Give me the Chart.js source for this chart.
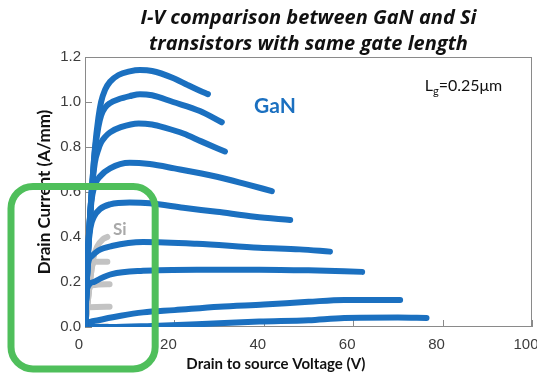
<!DOCTYPE html>
<html>
<head>
<meta charset="utf-8">
<script src="https://cdn.jsdelivr.net/npm/chart.js@4"></script>
<style>
  html, body { margin: 0; padding: 0; background: #fff; }
  #wrap { width: 537px; height: 382px; }
</style>
</head>
<body>
<div id="wrap"><canvas id="ivChart"></canvas></div>
<script>
// GaN output curves, [Vds (V), Id (A/mm)], one per gate voltage
const gan1 = [[0,0],[0.7,0.34],[1.5,0.6],[2.2,0.79],[3,0.93],[3.6,1.0],[4.5,1.055],[5.6,1.09],[7.5,1.12],[10,1.136],[12.3,1.142],[15,1.138],[19.7,1.107],[23,1.075],[25.7,1.05],[27.5,1.035]];
const gan2 = [[0,0],[0.7,0.34],[1.5,0.6],[2.2,0.78],[3,0.89],[3.6,0.94],[4.5,0.975],[5.6,0.995],[7.5,1.012],[10,1.026],[12.3,1.035],[15,1.03],[19.7,1.0],[25.7,0.96],[30.6,0.91]];
const gan3 = [[0,0],[0.7,0.34],[1.5,0.6],[2.2,0.73],[3,0.79],[3.6,0.82],[4.5,0.845],[5.6,0.865],[8,0.888],[12,0.905],[15,0.9],[18,0.885],[22,0.86],[26,0.825],[31.3,0.78]];
const gan4 = [[0,0],[0.7,0.34],[1.4,0.55],[2.2,0.63],[3.4,0.67],[5.6,0.705],[10,0.73],[14.5,0.724],[20,0.705],[29.5,0.668],[36,0.635],[41.8,0.604]];
const gan5 = [[0,0],[0.7,0.34],[1.2,0.44],[2,0.49],[3.4,0.525],[5.6,0.545],[10,0.553],[14.5,0.55],[22,0.53],[29.5,0.512],[38,0.49],[45.9,0.476]];
const gan6 = [[0,0],[0.6,0.27],[1.5,0.315],[3,0.34],[6,0.36],[13,0.378],[25,0.37],[39,0.352],[48,0.345],[54.8,0.335]];
const gan7 = [[0,0],[0.45,0.17],[2,0.2],[3.4,0.215],[6,0.235],[13,0.25],[25,0.255],[39,0.255],[50,0.252],[62,0.245]];
const gan8 = [[0,0],[0.5,0.015],[3,0.03],[8,0.05],[13,0.065],[20,0.075],[30,0.09],[40,0.1],[50,0.112],[58,0.12],[70.5,0.12]];
const gan9 = [[0,0],[5.6,0],[15,0.005],[25,0.012],[39,0.024],[50,0.03],[58,0.04],[70,0.042],[76.4,0.04]];

// Si output curves
const si1 = [[0,0],[1,0.18],[1.8,0.3],[2.8,0.36],[4,0.39],[5,0.4]];
const si2 = [[0,0],[1,0.18],[1.6,0.27],[2.5,0.29],[5,0.29]];
const si3 = [[0,0],[0.9,0.165],[1.5,0.185],[5.5,0.19]];
const si4 = [[0,0],[0.5,0.08],[1,0.088],[5.5,0.09]];
const si5 = [[0,0],[5,0.002]];

const ganCurves = [gan1, gan2, gan3, gan4, gan5, gan6, gan7, gan8, gan9];
const siCurves = [si1, si2, si3, si4, si5];

const titleLines = ['I-V comparison between GaN and Si', 'transistors with same gate length'];
const xTitle = 'Drain to source Voltage (V)';
const yTitle = 'Drain Current (A/mm)';

const colors = {
  gan: '#1b70c0',
  si: '#c3c3c3',
  box: '#4fbf5b',
  frame: '#8a8a8a',
  tick: '#3c3c3c',
  text: '#111111'
};

function curveDataset(points, color) {
  return {
    data: points.map(p => ({ x: p[0], y: p[1] })),
    borderColor: color,
    backgroundColor: color,
    borderWidth: 6,
    borderCapStyle: 'round',
    borderJoinStyle: 'round',
    pointRadius: 0,
    showLine: true,
    cubicInterpolationMode: 'monotone'
  };
}

// frame, tick marks, labels and the green highlight box
const decorPlugin = {
  id: 'decor',
  beforeDatasetsDraw(chart) {
    const { ctx, chartArea: a, scales: { x, y } } = chart;
    ctx.save();
    ctx.strokeStyle = colors.frame;
    ctx.lineWidth = 1;
    ctx.strokeRect(a.left + 0.5, a.top + 0.5, a.width - 1, a.height - 1);
    ctx.beginPath();
    y.ticks.forEach(t => {
      const py = Math.round(y.getPixelForValue(t.value)) + 0.5;
      ctx.moveTo(a.left, py);
      ctx.lineTo(a.left + 7, py);
    });
    x.ticks.forEach(t => {
      const px = Math.round(x.getPixelForValue(t.value)) + 0.5;
      ctx.moveTo(px, a.bottom);
      ctx.lineTo(px, a.bottom - 7);
    });
    ctx.stroke();
    ctx.restore();
  },
  afterDraw(chart) {
    const { ctx, chartArea: a, scales: { x, y } } = chart;
    ctx.save();

    // x axis title
    ctx.fillStyle = colors.text;
    ctx.font = 'bold 15px Lato';
    ctx.textAlign = 'center';
    ctx.textBaseline = 'middle';
    ctx.fillText(xTitle, x.getPixelForValue(42.7), a.bottom + 37);

    // GaN label
    ctx.fillStyle = colors.gan;
    ctx.font = 'bold 21px Lato';
    ctx.fillText('GaN', x.getPixelForValue(42.5), y.getPixelForValue(0.98));

    // Si label
    ctx.fillStyle = '#a9a9a9';
    ctx.font = 'bold 17px Lato';
    ctx.fillText('Si', x.getPixelForValue(7.8), y.getPixelForValue(0.435));

    // Lg = 0.25um
    ctx.fillStyle = colors.text;
    ctx.textAlign = 'left';
    ctx.textBaseline = 'alphabetic';
    let lx = x.getPixelForValue(76);
    const ly = y.getPixelForValue(1.05);
    ctx.font = '16px Lato';
    ctx.fillText('L', lx, ly);
    lx += ctx.measureText('L').width;
    ctx.font = '11px Lato';
    ctx.fillText('g', lx, ly + 4);
    lx += ctx.measureText('g').width;
    ctx.font = '16px Lato';
    ctx.fillText('=0.25\u03bcm', lx, ly);

    // green highlight box
    ctx.strokeStyle = colors.box;
    ctx.lineWidth = 7;
    const left = 11;
    const right = x.getPixelForValue(15.7);
    const top = y.getPixelForValue(0.625);
    const bottom = 369;
    ctx.beginPath();
    ctx.roundRect(left, top, right - left, bottom - top, 22);
    ctx.stroke();
    ctx.restore();
  }
};

const tickFont = { family: 'Liberation Sans', size: 15 };

new Chart(document.getElementById('ivChart'), {
  type: 'scatter',
  data: {
    datasets: [
      ...ganCurves.map(c => curveDataset(c, colors.gan)),
      ...siCurves.map(c => curveDataset(c, colors.si))
    ]
  },
  options: {
    responsive: true,
    maintainAspectRatio: false,
    animation: false,
    layout: { padding: { top: 0, right: 5, bottom: 0, left: 0 } },
    plugins: {
      legend: { display: false },
      tooltip: { enabled: false },
      title: {
        display: true,
        fullSize: false,
        text: titleLines,
        color: colors.text,
        font: { family: 'Open Sans', size: 20, weight: 'bold', style: 'italic', lineHeight: 1.3 },
        padding: { top: 5, bottom: 0 }
      }
    },
    scales: {
      x: {
        type: 'linear',
        min: 0,
        max: 100,
        grid: { display: false, drawTicks: false },
        border: { display: false },
        ticks: { stepSize: 20, labelOffset: -6, padding: 9, font: tickFont, color: colors.tick },
        afterFit(s) { s.height = 55; s.paddingRight = 0; s.paddingLeft = 0; }
      },
      y: {
        min: 0,
        max: 1.2,
        grid: { display: false, drawTicks: false },
        border: { display: false },
        ticks: { stepSize: 0.2, padding: 4, font: tickFont, color: colors.tick, callback: v => v.toFixed(1) },
        title: {
          display: true,
          text: yTitle,
          color: colors.text,
          font: { family: 'Lato', size: 17, weight: 'bold' },
          padding: { top: 34, bottom: 0 }
        },
        afterFit(s) { s.width = 85; }
      }
    }
  },
  plugins: [decorPlugin]
});
</script>
</body>
</html>
